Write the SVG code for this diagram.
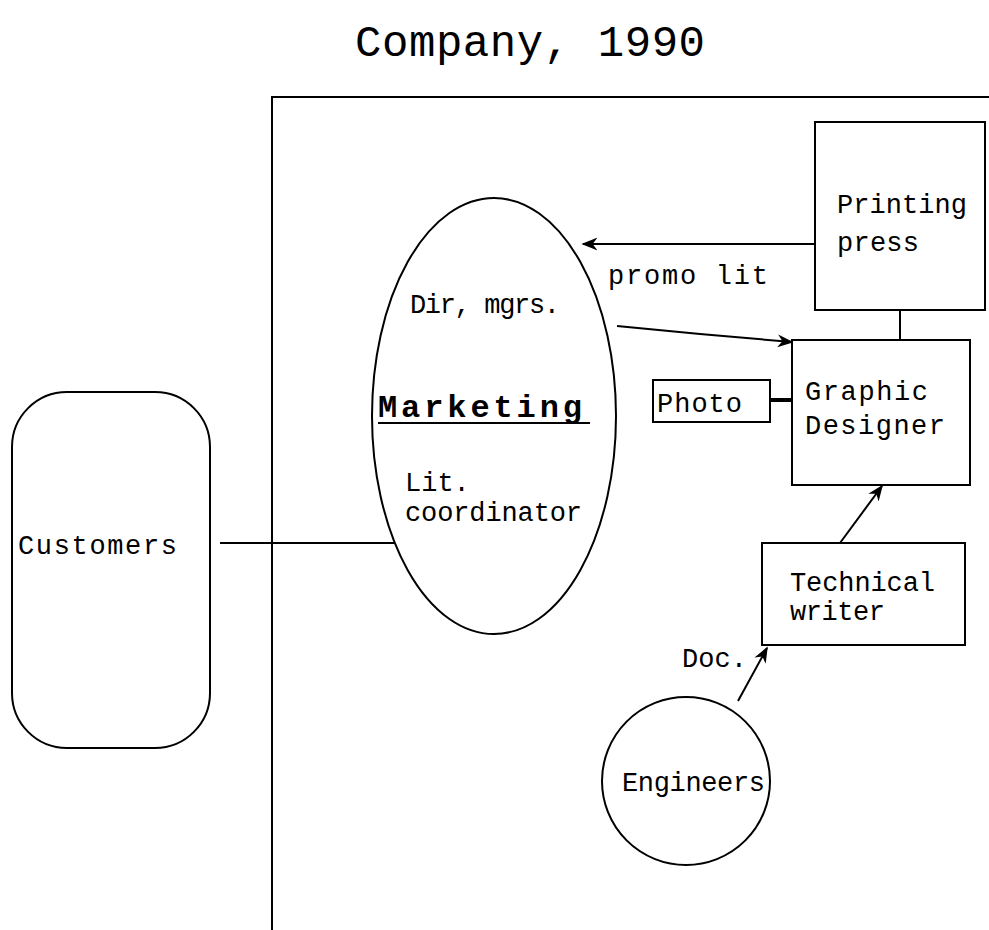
<svg xmlns="http://www.w3.org/2000/svg" width="989" height="930" viewBox="0 0 989 930">
<style>
text{font-family:"Liberation Mono","DejaVu Sans Mono",monospace;fill:#000;}
.t{font-size:27px;}
.shape{fill:#fff;stroke:#000;stroke-width:2;}
.ln{stroke:#000;stroke-width:2;fill:none;}
</style>
<defs>
<marker id="ahb" viewBox="0 0 10 10" refX="9" refY="5" markerWidth="16" markerHeight="16" orient="auto" markerUnits="userSpaceOnUse">
<path d="M0,1 L10,5 L0,9 L3,5 Z" fill="#000"/>
</marker>
</defs>
<rect width="989" height="930" fill="#fff"/>
<g id="title"><text x="355" y="56" font-size="44" textLength="350" lengthAdjust="spacing">Company, 1990</text></g>
<g id="frame"><path class="ln" d="M272,930 L272,97 L989,97"/></g>
<g id="connectors">
<line class="ln" x1="220" y1="543" x2="394" y2="543"/>
<line class="ln" x1="815" y1="244" x2="583" y2="244" marker-end="url(#ahb)"/>
<polyline class="ln" points="617,326 700,334 792,342" marker-end="url(#ahb)"/>
<line class="ln" x1="900" y1="310" x2="900" y2="340"/>
<line x1="770" y1="400" x2="792" y2="400" stroke="#000" stroke-width="4"/>
<line class="ln" x1="840" y1="543" x2="882" y2="486" marker-end="url(#ahb)"/>
<line class="ln" x1="738" y1="701" x2="767" y2="648" marker-end="url(#ahb)"/>
<text class="t" x="608" y="284" textLength="160" lengthAdjust="spacing">promo lit</text>
<text class="t" x="682" y="667" textLength="65" lengthAdjust="spacing">Doc.</text>
</g>
<g id="customers">
<rect class="shape" x="12" y="392" width="198" height="356" rx="55" ry="55"/>
<text class="t" x="18" y="554" textLength="159" lengthAdjust="spacing">Customers</text>
</g>
<g id="marketing">
<ellipse class="shape" cx="494" cy="416" rx="122" ry="218"/>
<text class="t" x="410" y="313" textLength="150" lengthAdjust="spacing">Dir, mgrs.</text>
<text x="378" y="417" font-size="32" font-weight="bold" textLength="204" lengthAdjust="spacing">Marketing</text>
<line x1="378" y1="423" x2="590" y2="423" stroke="#000" stroke-width="2"/>
<text class="t" x="405" y="491">Lit.</text>
<text class="t" x="405" y="521" textLength="177" lengthAdjust="spacing">coordinator</text>
</g>
<g id="printing-press">
<rect class="shape" x="815" y="122" width="170" height="188"/>
<text class="t" x="837" y="213" textLength="130" lengthAdjust="spacing">Printing</text>
<text class="t" x="837" y="251" textLength="82" lengthAdjust="spacing">press</text>
</g>
<g id="graphic-designer">
<rect class="shape" x="792" y="340" width="178" height="145"/>
<text class="t" x="805" y="400" textLength="123" lengthAdjust="spacing">Graphic</text>
<text class="t" x="805" y="434" textLength="140" lengthAdjust="spacing">Designer</text>
</g>
<g id="photo">
<rect class="shape" x="653" y="380" width="117" height="42"/>
<text class="t" x="657" y="412" textLength="85" lengthAdjust="spacing">Photo</text>
</g>
<g id="technical-writer">
<rect class="shape" x="762" y="543" width="203" height="102"/>
<text class="t" x="790" y="591" textLength="145" lengthAdjust="spacing">Technical</text>
<text class="t" x="790" y="620" textLength="95" lengthAdjust="spacing">writer</text>
</g>
<g id="engineers">
<circle class="shape" cx="686" cy="781" r="84"/>
<text class="t" x="622" y="791" textLength="143" lengthAdjust="spacing">Engineers</text>
</g>
</svg>
